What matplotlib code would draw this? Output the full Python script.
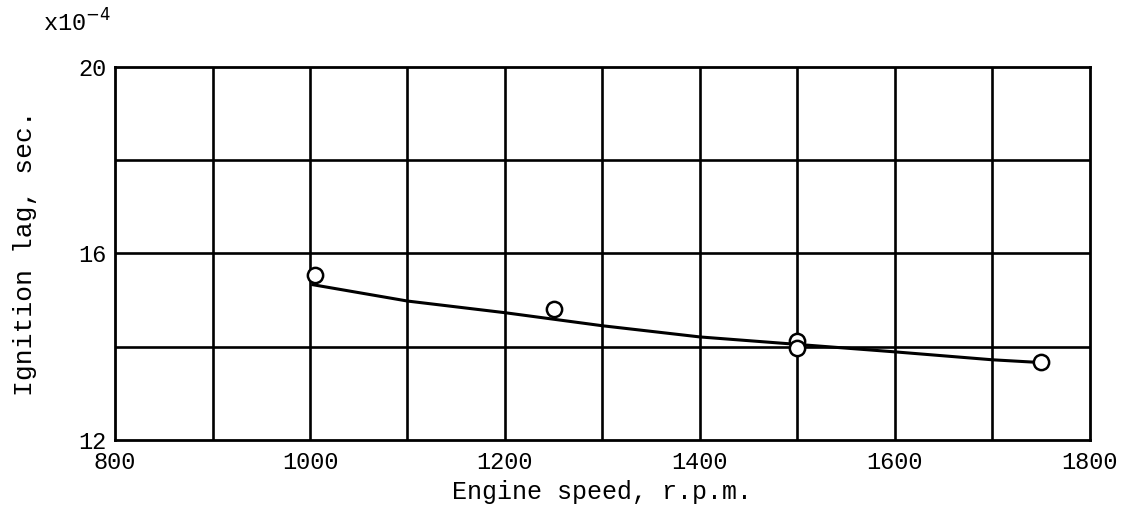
import numpy as np
import matplotlib.pyplot as plt

# =========================
# Data
# =========================
speed_pts = [1005, 1250, 1500, 1500, 1750]          # r.p.m.
lag_pts = [15.54, 14.81, 14.12, 13.97, 13.67]       # x10^-4 sec

# faired curve, read at grid lines
curve_speed = [1003, 1100, 1200, 1300, 1400, 1500, 1600, 1700, 1742]
curve_lag = [15.33, 14.98, 14.73, 14.45, 14.21, 14.05, 13.89, 13.72, 13.67]

x_ticks = [800, 1000, 1200, 1400, 1600, 1800]
y_ticks = [12, 16, 20]

plt.rcParams['font.family'] = ['Liberation Mono', 'DejaVu Sans Mono']

fig = plt.figure(figsize=(11.31, 5.16), dpi=100)
ax = fig.add_axes([0.1017, 0.1473, 0.862, 0.7229])

ax.set_xlim(800, 1800)
ax.set_ylim(12, 20)

# grid
for gx in np.arange(900, 1800, 100):
    ax.axvline(gx, color="black", lw=1.9, zorder=1)
for gy in [14, 16, 18]:
    ax.axhline(gy, color="black", lw=1.9, zorder=1)

ax.plot(curve_speed, curve_lag, color="black", lw=2.2, zorder=2)
ax.plot(speed_pts, lag_pts, "o", ms=11, mfc="white", mec="black", mew=1.8, zorder=3)

ax.set_xticks(x_ticks)
ax.set_yticks(y_ticks)
ax.tick_params(length=0, labelsize=17, pad=6, colors="black")
ax.tick_params(axis="x", pad=8)
for s in ax.spines.values():
    s.set_linewidth(2.0)

ax.set_xlabel("Engine speed, r.p.m.", fontsize=18, labelpad=4)
ax.set_ylabel("Ignition lag, sec.", fontsize=19, labelpad=30)
fig.text(0.038, 0.955, r"x10$^{-4}$", fontsize=17, ha="left", va="center")

fig.savefig("out.png", dpi=100)
